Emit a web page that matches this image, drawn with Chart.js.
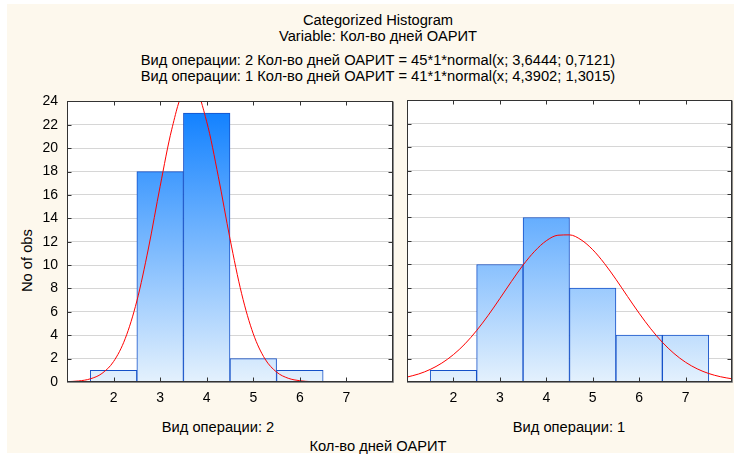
<!DOCTYPE html>
<html>
<head>
<meta charset="utf-8">
<script src="https://cdn.jsdelivr.net/npm/chart.js@4.4.1/dist/chart.umd.min.js"></script>
<style>
  body { margin: 0; background: #fff; width: 734px; height: 457px; overflow: hidden; position: relative; font-family: "Liberation Sans", Arial, sans-serif; }
  #bg { position: absolute; left: 7px; top: 4px; width: 727px; height: 449px; background: #fdf8ed; }
  .t { position: absolute; font-size: 14.7px; line-height: 16px; white-space: nowrap; color: #000; text-align: center; }
  canvas { position: absolute; }
</style>
</head>
<body>
<div id="bg"></div>
<div class="t" style="left:78px;width:600px;top:12px">Categorized Histogram</div>
<div class="t" style="left:78px;width:600px;top:28px">Variable: Кол-во дней ОАРИТ</div>
<div class="t" style="left:78px;width:600px;top:52px">Вид операции: 2 Кол-во дней ОАРИТ = 45*1*normal(x; 3,6444; 0,7121)</div>
<div class="t" style="left:78px;width:600px;top:68px">Вид операции: 1 Кол-во дней ОАРИТ = 41*1*normal(x; 4,3902; 1,3015)</div>
<div class="t" style="left:-3px;width:60px;top:254px;transform:rotate(-90deg)">No of obs</div>
<div class="t" style="left:118px;width:200px;top:419px">Вид операции: 2</div>
<div class="t" style="left:469px;width:200px;top:419px">Вид операции: 1</div>
<div class="t" style="left:278px;width:200px;top:438px">Кол-во дней ОАРИТ</div>

<canvas id="c1" style="left:7px;top:84px;width:393px;height:326px" width="393" height="326"></canvas>
<canvas id="c2" style="left:400px;top:90px;width:334px;height:320px" width="334" height="320"></canvas>

<script>
// bins of "Кол-во дней ОАРИТ"
const bins = [2, 3, 4, 5, 6, 7];
const countsOp2 = [1, 18, 23, 2, 1, 0];
const countsOp1 = [1, 10, 14, 8, 4, 4];

// fitted normal curves
const curveX = [1, 1.25, 1.5, 1.75, 2, 2.25, 2.5, 2.75, 3, 3.25, 3.5, 3.75, 4, 4.25, 4.5,
  4.75, 5, 5.25, 5.5, 5.75, 6, 6.25, 6.5, 6.75, 7, 7.25, 7.5, 7.75, 8];
const curveOp2 = [0.03, 0.09, 0.27, 0.73, 1.75, 3.71, 6.93, 11.46, 16.74, 21.62, 24.7, 24.94, 22.26, 17.56, 12.25,
  7.55, 4.12, 1.98, 0.85, 0.32, 0.11, 0.03, 0.01, 0, 0, 0, 0, 0, 0];
const curveOp1 = [0.42, 0.68, 1.07, 1.61, 2.33, 3.25, 4.38, 5.68, 7.1, 8.56, 9.95, 11.13, 12.02, 12.49, 12.52,
  12.1, 11.26, 10.1, 8.74, 7.28, 5.85, 4.53, 3.38, 2.43, 1.68, 1.12, 0.72, 0.45, 0.27];

const xTicks = [2, 3, 4, 5, 6, 7];
const xMin = 1, xMax = 8;
const yMin = 0, yMax = 24, yStep = 2;

Chart.defaults.font.family = '"Liberation Sans", Arial, sans-serif';
Chart.defaults.font.size = 14;
Chart.defaults.color = "#000";

function barFill(ctx){
  const area = ctx.chart.chartArea;
  if(!area) return "#6ab0ff";
  const g = ctx.chart.ctx.createLinearGradient(0, area.top, 0, area.bottom);
  g.addColorStop(0, "#0a7dff");
  g.addColorStop(1, "#e4f1fd");
  return g;
}

const frame = {
  id: "frame",
  beforeDraw(chart){
    const { ctx, chartArea: a } = chart;
    ctx.save();
    ctx.fillStyle = "#fff";
    ctx.fillRect(a.left, a.top, a.right - a.left, a.bottom - a.top);
    ctx.restore();
  },
  afterDraw(chart){
    const { ctx, chartArea: a, scales: { x, y } } = chart;
    const L = Math.round(a.left) + 0.5, R = Math.round(a.right) - 0.5;
    const T = Math.round(a.top) + 0.5, B = Math.round(a.bottom) - 0.5;
    ctx.save();
    ctx.strokeStyle = "#333";
    ctx.lineWidth = 1;
    ctx.beginPath();
    y.ticks.forEach(t => {
      const py = Math.round(y.getPixelForValue(t.value)) + 0.5;
      ctx.moveTo(L, py); ctx.lineTo(L + 4, py);
      ctx.moveTo(R, py); ctx.lineTo(R - 4, py);
    });
    x.ticks.forEach(t => {
      const px = Math.round(x.getPixelForValue(t.value)) + 0.5;
      ctx.moveTo(px, T); ctx.lineTo(px, T + 4);
      ctx.moveTo(px, B); ctx.lineTo(px, B - 4);
    });
    ctx.stroke();
    ctx.strokeRect(L, T, R - L, B - T);
    ctx.strokeStyle = "#8a8a8a";
    ctx.beginPath();
    ctx.moveTo(R + 1, T); ctx.lineTo(R + 1, B + 1);
    ctx.moveTo(L, B + 1); ctx.lineTo(R + 1, B + 1);
    ctx.stroke();
    ctx.restore();
  }
};

function makeChart(id, counts, curve, showY){
  return new Chart(document.getElementById(id), {
    type: "bar",
    data: {
      datasets: [
        {
          type: "line",
          data: curveX.map((v, i) => ({ x: v, y: curve[i] })),
          borderColor: "#ff0000",
          borderWidth: 1,
          pointRadius: 0,
          cubicInterpolationMode: "monotone",
          order: 0
        },
        {
          data: bins.map((v, i) => ({ x: v, y: counts[i] })),
          backgroundColor: barFill,
          borderColor: "#1450c8",
          borderWidth: 1,
          barPercentage: 1,
          categoryPercentage: 1,
          order: 1
        }
      ]
    },
    options: {
      responsive: false,
      animation: false,
      events: [],
      layout: { padding: showY ? { top: 4, right: 7, left: 0, bottom: 0 } : { top: 10, right: 2, left: 7, bottom: 0 } },
      plugins: { legend: { display: false }, tooltip: { enabled: false } },
      scales: {
        x: {
          type: "linear",
          min: xMin, max: xMax,
          offset: false,
          afterBuildTicks: s => { s.ticks = xTicks.map(v => ({ value: v })); },
          afterFit: s => { s.height = 28; },
          grid: { display: false, drawTicks: false },
          border: { display: false },
          ticks: { padding: 8, maxRotation: 0 }
        },
        y: {
          min: yMin, max: yMax,
          afterFit: s => { s.width = showY ? 60 : 0; },
          grid: { color: "#d6d6d6", lineWidth: 1, drawTicks: false },
          border: { display: false },
          ticks: { display: showY, stepSize: yStep, padding: 9 }
        }
      }
    },
    plugins: [frame]
  });
}

makeChart("c1", countsOp2, curveOp2, true);
makeChart("c2", countsOp1, curveOp1, false);
</script>
</body>
</html>
